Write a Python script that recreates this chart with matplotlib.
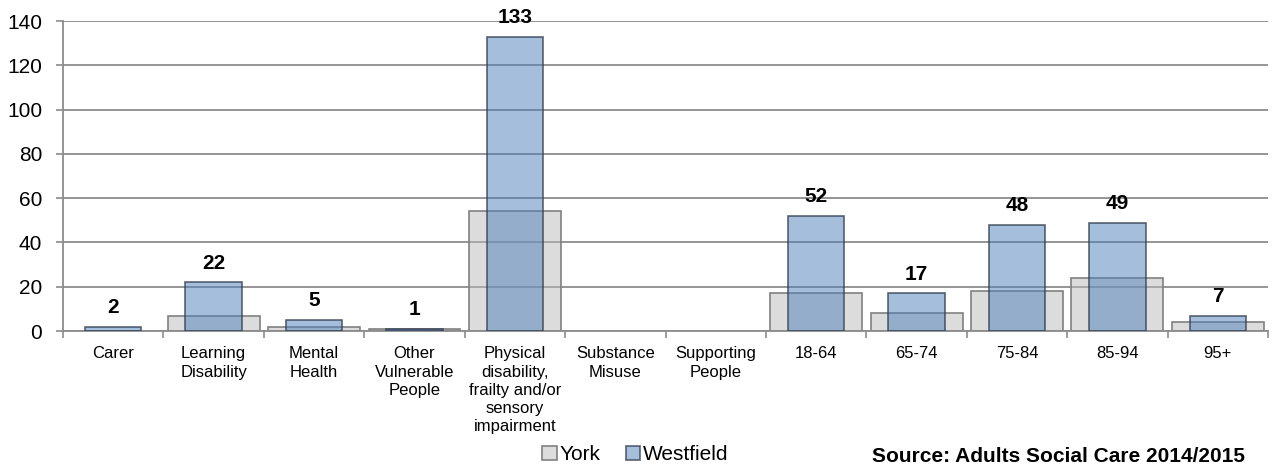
import numpy as np
import matplotlib.pyplot as plt

plt.rcParams['font.family'] = ['Liberation Sans', 'DejaVu Sans']

categories = ['Carer', 'Learning\nDisability', 'Mental\nHealth', 'Other\nVulnerable\nPeople',
              'Physical\ndisability,\nfrailty and/or\nsensory\nimpairment', 'Substance\nMisuse',
              'Supporting\nPeople', '18-64', '65-74', '75-84', '85-94', '95+']
york = [0, 7, 2, 1, 54, 0, 0, 17, 8, 18, 24, 4]
westfield = [2, 22, 5, 1, 133, 0, 0, 52, 17, 48, 49, 7]
yticks = [0, 20, 40, 60, 80, 100, 120, 140]
source = 'Source: Adults Social Care 2014/2015'

x = np.arange(len(categories))
york = np.array(york, dtype=float)
westfield = np.array(westfield, dtype=float)

fig = plt.figure(figsize=(12.77, 4.68), dpi=100)
ax = fig.add_axes([0.0493, 0.2927, 0.9437, 0.6624])

# skip empty categories so no flat outline is drawn on the axis
yk = york > 0
wk = westfield > 0

# York: wide grey bars, Westfield: narrower translucent blue on top
ax.bar(x[yk], york[yk], width=0.915, facecolor=(0.73, 0.73, 0.73, 0.5),
       edgecolor='#808080', linewidth=1.2, label='York', zorder=2)
ax.bar(x[wk], westfield[wk], width=0.56, facecolor=(77/255, 127/255, 187/255, 0.5),
       edgecolor=(0.2, 0.25, 0.32, 0.8), linewidth=1.2, label='Westfield', zorder=3)

for xi, v in zip(x[wk], westfield[wk]):
    ax.annotate(f'{v:.0f}', (xi, v), xytext=(0, 7), textcoords='offset points',
                ha='center', va='bottom', fontsize=15, fontweight='bold')

ax.set_xlim(-0.5, len(categories) - 0.5)
ax.set_ylim(0, 140)
ax.set_yticks(yticks)
ax.yaxis.grid(True, color='#8c8c8c', linewidth=1.3, zorder=0)
ax.set_axisbelow(True)

ax.set_xticks(x)
ax.set_xticklabels(categories, fontsize=12, linespacing=1.27, va='top')
ax.set_xticks(np.arange(-0.5, len(categories)), minor=True)
ax.tick_params(axis='x', which='major', length=0, pad=11)
ax.tick_params(axis='x', which='minor', length=5, color='#8c8c8c', width=1.2)
ax.tick_params(axis='y', length=5, color='#8c8c8c', width=1.2, labelsize=15, pad=10)

for s in ['top', 'right']:
    ax.spines[s].set_visible(False)
for s in ['left', 'bottom']:
    ax.spines[s].set_color('#8c8c8c')
    ax.spines[s].set_linewidth(1.3)

fig.legend(loc='center', bbox_to_anchor=(0.4976, 0.028), ncol=2, frameon=False,
           fontsize=15, handlelength=0.7, handleheight=0.7, handletextpad=0.15,
           columnspacing=1.2, borderpad=0)

fig.text(872 / 1277, 0.004, source, fontsize=15, fontweight='bold', ha='left', va='bottom')

fig.savefig('out.png', dpi=100)
